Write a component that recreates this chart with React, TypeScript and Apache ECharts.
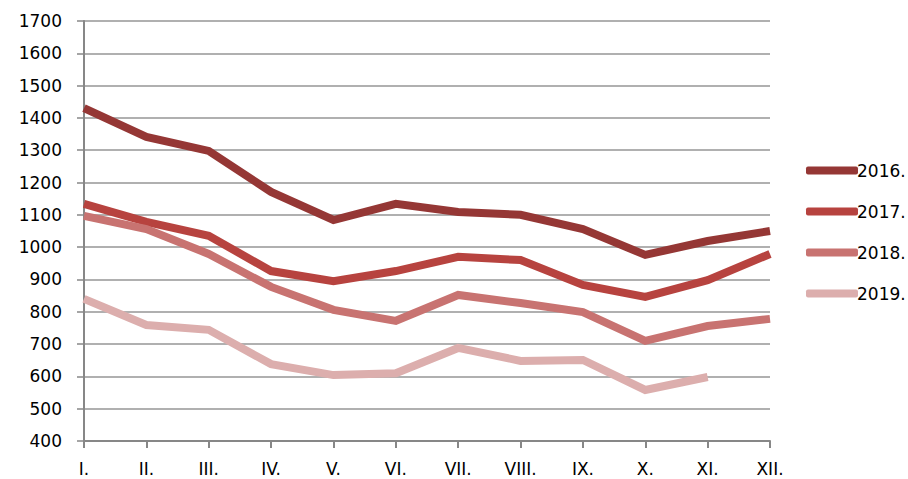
import React, { useEffect, useRef } from "react";
import * as echarts from "echarts";

const months = ["I.", "II.", "III.", "IV.", "V.", "VI.", "VII.", "VIII.", "IX.", "X.", "XI.", "XII."];
const seriesNames = ["2016.", "2017.", "2018.", "2019."];
const v2016 = [1430, 1341, 1298, 1171, 1084, 1134, 1109, 1100, 1056, 976, 1019, 1050];
const v2017 = [1134, 1078, 1035, 926, 895, 926, 970, 960, 883, 846, 898, 979];
const v2018 = [1097, 1056, 979, 877, 806, 772, 852, 827, 799, 710, 756, 778];
const v2019 = [840, 759, 744, 638, 604, 610, 688, 648, 651, 558, 598];
const colors = ["#953735", "#B7433F", "#C87371", "#DCAEAD"];

export default function App() {
  const ref = useRef<HTMLDivElement>(null);
  useEffect(() => {
    document.body.style.margin = "0";
    const chart = echarts.init(ref.current!, null, { renderer: "svg" });
    const font = "DejaVu Sans";
    const data = [v2016, v2017, v2018, v2019];
    chart.setOption({
      animation: false,
      backgroundColor: "#ffffff",
      color: colors,
      grid: { left: 84, right: 138, top: 21, bottom: 38 },
      legend: {
        orient: "vertical",
        left: 801,
        top: 157,
        itemWidth: 52,
        itemHeight: 8,
        itemGap: 24,
        icon: "roundRect",
        textStyle: { fontFamily: font, fontSize: 17, color: "#000", padding: [0, 0, 0, -6] },
        data: seriesNames,
      },
      xAxis: {
        type: "category",
        data: months,
        boundaryGap: false,
        axisLine: { lineStyle: { color: "#878787", width: 2 } },
        axisTick: { show: true, length: 7, lineStyle: { color: "#878787", width: 2 } },
        axisLabel: { fontFamily: font, fontSize: 17, color: "#000", margin: 19 },
        splitLine: { show: false },
      },
      yAxis: {
        type: "value",
        min: 400,
        max: 1700,
        interval: 100,
        axisLine: { show: true, lineStyle: { color: "#878787", width: 2 } },
        axisTick: { show: true, length: 7, lineStyle: { color: "#878787", width: 1.5 } },
        axisLabel: {
          fontFamily: font,
          fontSize: 17,
          color: "#000",
          margin: 22,
          formatter: (v: number) => String(v),
        },
        splitLine: { lineStyle: { color: "#969696", width: 1.5 } },
      },
      series: seriesNames.map((name, i) => ({
        name,
        type: "line",
        data: data[i],
        symbol: "none",
        lineStyle: { width: 8, color: colors[i], join: "miter" },
        itemStyle: { color: colors[i] },
      })),
    });
    return () => chart.dispose();
  }, []);
  return <div ref={ref} style={{ width: 908, height: 479 }} />;
}
